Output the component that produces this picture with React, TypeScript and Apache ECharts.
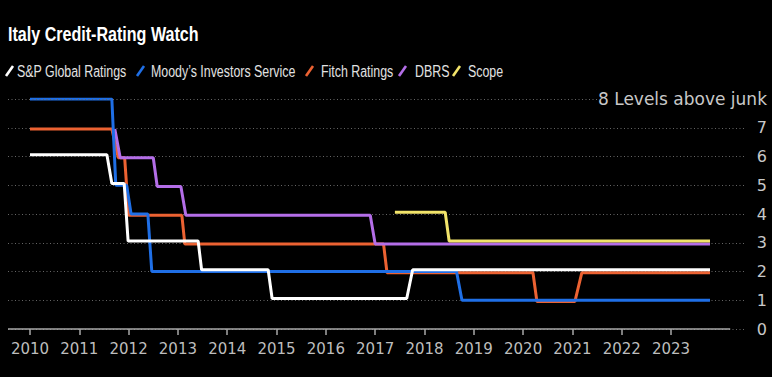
import React, { useEffect, useRef } from "react";
import * as echarts from "echarts";

// ---- data (decimal years, levels above junk) ----
const yearTicks = [2010, 2011, 2012, 2013, 2014, 2015, 2016, 2017, 2018, 2019, 2020, 2021, 2022, 2023];
const topLevelLabel = "8 Levels above junk";

const spX = [2010.0, 2011.56, 2011.66, 2011.91, 2011.99, 2013.41, 2013.48, 2014.83, 2014.91, 2017.64, 2017.76, 2023.79];
const spY = [6, 6, 5, 5, 3, 3, 2, 2, 1, 1, 2, 2];

const moodysX = [2010.0, 2011.66, 2011.74, 2011.96, 2012.05, 2012.39, 2012.47, 2018.65, 2018.76, 2023.79];
const moodysY = [8, 8, 5, 5, 4, 4, 2, 2, 1, 1];

const fitchX = [2010.0, 2011.66, 2011.79, 2011.92, 2012.0, 2013.08, 2013.14, 2017.17, 2017.24, 2020.2, 2020.28, 2021.05, 2021.19, 2023.79];
const fitchY = [7, 7, 6, 6, 4, 4, 3, 3, 2, 2, 1, 1, 2, 2];

const dbrsX = [2011.72, 2011.83, 2012.5, 2012.58, 2013.06, 2013.16, 2016.9, 2017.0, 2023.79];
const dbrsY = [7, 6, 6, 5, 5, 4, 4, 3, 3];

const scopeX = [2017.4, 2018.42, 2018.5, 2023.79];
const scopeY = [4, 4, 3, 3];

const seriesNames = ["S&P Global Ratings", "Moody\u2019s Investors Service", "Fitch Ratings", "DBRS", "Scope"];
const seriesColors = ["#ffffff", "#1f6fe6", "#ec6232", "#b46ee8", "#f2e46a"];

// ---- layout (not data) ----
const legendIconX = [6, 137, 306, 399, 453];
const legendTextX = [17, 151, 321, 415, 468];

const zip = (xs: number[], ys: number[]) => xs.map((x, i) => [x, ys[i]]);

const X_MIN = 2009.554;
const X_MAX = 2024.5;
const AXIS_END = 2024.2;
const TOP_LINE_END = 2021.5;

const sans = "'Liberation Sans', Arial, sans-serif";
const labelFont = "'DejaVu Sans', 'Noto Sans', sans-serif";
const gridColor = "#666666";

export default function App() {
  const ref = useRef<HTMLDivElement>(null);

  useEffect(() => {
    if (!ref.current) return;
    const chart = echarts.init(ref.current, null, { renderer: "svg" });

    const line = (idx: number, data: number[][], yAxisIndex: number, extra: any = {}) => ({
      name: seriesNames[idx],
      type: "line",
      data,
      yAxisIndex,
      showSymbol: false,
      symbol: "none",
      color: seriesColors[idx],
      lineStyle: { color: seriesColors[idx], width: 3 },
      ...extra,
    });

    const legendGraphics: any[] = [];
    seriesNames.forEach((name, i) => {
      legendGraphics.push({
        type: "line",
        x: legendIconX[i],
        y: 66,
        shape: { x1: 0, y1: 10, x2: 7, y2: 0 },
        style: { stroke: seriesColors[i], lineWidth: 2.6 },
        silent: true,
      });
      legendGraphics.push({
        type: "text",
        x: legendTextX[i],
        y: 71.5,
        scaleX: 0.775,
        style: {
          text: name,
          fill: "#e2e2e2",
          font: `16px ${sans}`,
          textAlign: "left",
          textVerticalAlign: "middle",
        },
        silent: true,
      });
    });

    chart.setOption({
      animation: false,
      backgroundColor: "#000000",
      graphic: [
        {
          type: "text",
          x: 8,
          y: 34,
          scaleX: 0.825,
          style: {
            text: "Italy Credit-Rating Watch",
            fill: "#ffffff",
            font: `bold 19.5px ${sans}`,
            textAlign: "left",
            textVerticalAlign: "middle",
          },
          silent: true,
        },
        ...legendGraphics,
      ],
      grid: { left: 8, right: 27, top: 99, bottom: 48 },
      xAxis: {
        type: "value",
        min: X_MIN,
        max: X_MAX,
        axisLine: { show: false },
        splitLine: { show: false },
        axisTick: { show: true, customValues: yearTicks, length: 6, lineStyle: { color: "#a8a8a8", width: 1.5 } },
        axisLabel: {
          customValues: yearTicks,
          formatter: (v: number) => String(v),
          color: "#bdbdbd",
          fontSize: 15,
          fontFamily: labelFont,
          margin: 12,
        },
      },
      yAxis: [
        {
          type: "value",
          min: 0,
          max: 8,
          interval: 1,
          position: "right",
          axisLine: { show: false },
          axisTick: { show: false },
          splitLine: {
            show: true,
            showMaxLine: false,
            lineStyle: { color: gridColor, type: [1, 2.5], width: 1 },
          },
          axisLabel: {
            align: "right",
            margin: 22,
            color: "#c8c8c8",
            fontSize: 16,
            fontFamily: labelFont,
            formatter: (v: number) => (v === 8 ? `{top|${topLevelLabel}}` : String(v)),
            rich: {
              top: { fontSize: 17, color: "#c8c8c8", fontFamily: labelFont },
            },
          },
        },
        { type: "value", show: false, min: -0.06, max: 7.94 },
        { type: "value", show: false, min: 0.045, max: 8.045 },
      ],
      series: [
        line(2, zip(fitchX, fitchY), 2),
        line(3, zip(dbrsX, dbrsY), 2),
        line(1, zip(moodysX, moodysY), 0, {
          markLine: {
            silent: true,
            symbol: ["none", "none"],
            label: { show: false },
            emphasis: { disabled: true },
            data: [
              [
                { coord: [X_MIN, 0], lineStyle: { color: "#a8a8a8", width: 1.5, type: "solid" } },
                { coord: [AXIS_END, 0] },
              ],
              [
                { coord: [X_MIN, 8], lineStyle: { color: gridColor, width: 1, type: [1, 2.5] } },
                { coord: [TOP_LINE_END, 8] },
              ],
            ],
          },
        }),
        line(0, zip(spX, spY), 1),
        line(4, zip(scopeX, scopeY), 1),
      ],
    });

    return () => chart.dispose();
  }, []);

  return (
    <div
      ref={ref}
      style={{ position: "fixed", left: 0, top: 0, width: 772, height: 377, background: "#000" }}
    />
  );
}
